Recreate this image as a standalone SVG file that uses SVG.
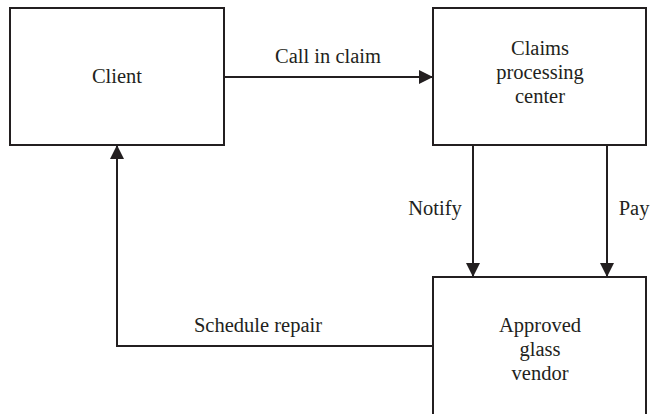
<svg xmlns="http://www.w3.org/2000/svg" width="651" height="414" viewBox="0 0 651 414">
  <style>
    .box { fill: #ffffff; stroke: #231f20; stroke-width: 2; }
    .edge { fill: none; stroke: #231f20; stroke-width: 2; }
    .lbl { font-family: "Liberation Serif", "Times New Roman", Times, "DejaVu Serif", serif; font-size: 20.5px; fill: #231f20; text-anchor: middle; }
  </style>
  <defs>
    <marker id="arrow" markerUnits="userSpaceOnUse" markerWidth="14" markerHeight="14" viewBox="0 0 14 14" refX="14" refY="7" orient="auto">
      <path d="M0,0 L14,7 L0,14 Z" fill="#231f20"/>
    </marker>
  </defs>
  <rect width="651" height="414" fill="#ffffff"/>

  <g id="client">
    <rect class="box" x="10" y="8" width="214" height="137"/>
    <text class="lbl" x="117" y="83">Client</text>
  </g>

  <g id="claims-center">
    <rect class="box" x="433" y="8" width="213" height="137"/>
    <text class="lbl" x="540" y="55">Claims</text>
    <text class="lbl" x="540" y="79">processing</text>
    <text class="lbl" x="540" y="103">center</text>
  </g>

  <g id="glass-vendor">
    <rect class="box" x="433" y="277" width="213" height="150"/>
    <text class="lbl" x="540" y="332">Approved</text>
    <text class="lbl" x="540" y="356">glass</text>
    <text class="lbl" x="540" y="380">vendor</text>
  </g>

  <g id="connectors">
    <line class="edge" x1="224" y1="77" x2="433" y2="77" marker-end="url(#arrow)"/>
    <text class="lbl" x="328" y="63">Call in claim</text>

    <line class="edge" x1="473" y1="145" x2="473" y2="277" marker-end="url(#arrow)"/>
    <text class="lbl" x="435" y="215">Notify</text>

    <line class="edge" x1="607" y1="145" x2="607" y2="277" marker-end="url(#arrow)"/>
    <text class="lbl" x="634" y="215">Pay</text>

    <polyline class="edge" points="433,346 117,346 117,145" marker-end="url(#arrow)"/>
    <text class="lbl" x="258" y="332">Schedule repair</text>
  </g>
</svg>
